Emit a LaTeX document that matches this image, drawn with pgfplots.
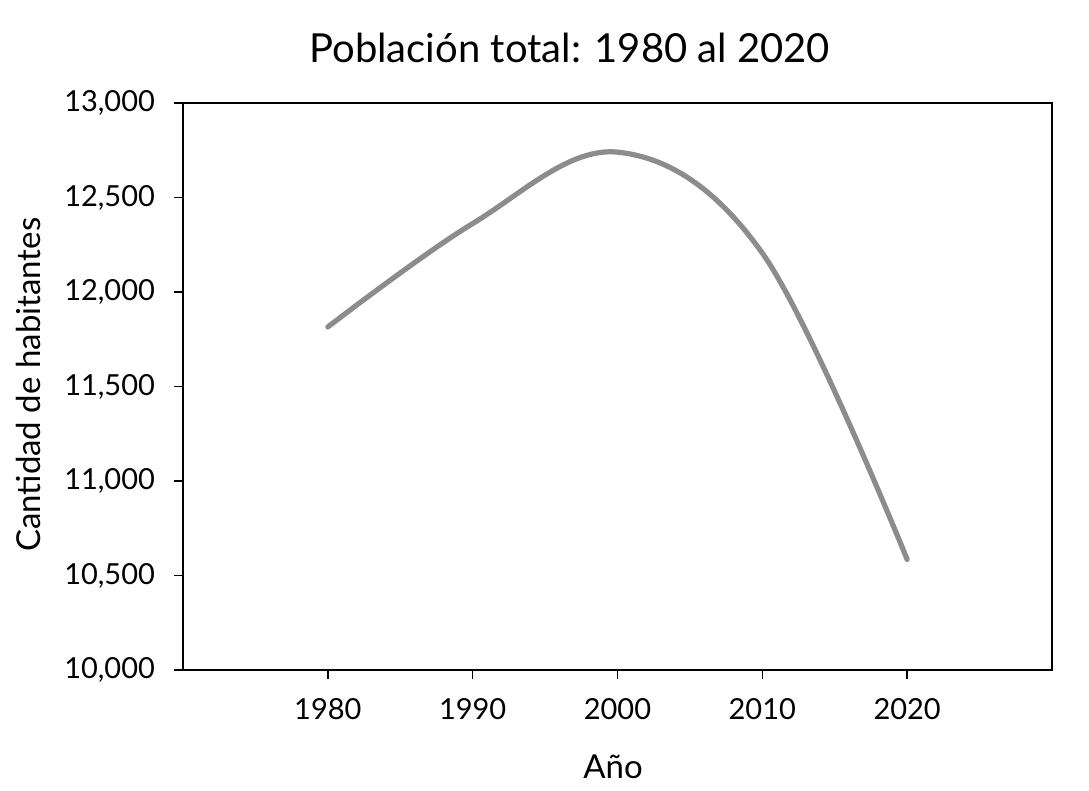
\documentclass[border=0pt]{standalone}
\usepackage{pgfplots}
\pgfplotsset{compat=1.18}
\usepackage{fontspec}
\setmainfont{Lato}
\definecolor{linegray}{HTML}{8C8C8C}
\begin{document}
\begin{tikzpicture}
\begin{axis}[
  scale only axis, width=434.5pt, height=283.5pt,
  xmin=1970, xmax=2030, ymin=10000, ymax=13000,
  xtick={1980,1990,2000,2010,2020},
  ytick={10000,10500,11000,11500,12000,12500,13000},
  scaled ticks=false,
  tick align=outside, tick pos=left,
  major tick length=4.5pt,
  axis line style={line width=0.8pt},
  tick style={line width=0.8pt, black},
  /pgf/number format/assume math mode=true,
  x tick label style={/pgf/number format/1000 sep={}},
  y tick label style={/pgf/number format/fixed, /pgf/number format/1000 sep={,}},
  ticklabel style={font=\fontsize{14.5}{17}\selectfont},
  xticklabel style={yshift=-6pt},
  yticklabel style={xshift=-6pt},
  title={Población total: 1980 al 2020},
  title style={font=\fontsize{20}{24}\selectfont, at={(axis description cs:0.445,1.076)}, anchor=center},
  xlabel={Año}, ylabel={Cantidad de habitantes},
  label style={font=\fontsize{16.5}{20}\selectfont},
  xlabel style={at={(axis description cs:0.495,-0.171)}, anchor=center},
  ylabel style={at={(axis description cs:-0.178,0.503)}, anchor=center},
]
\addplot[linegray, line width=2.6pt, smooth, tension=0.6, line cap=round] coordinates {
  (1980,11815) (1990,12362) (2000,12740) (2010,12206) (2020,10585)
};
\end{axis}
\pgfresetboundingbox
\useasboundingbox (-91.5pt,-60.5pt) rectangle (453pt,335pt);
\end{tikzpicture}
\end{document}
